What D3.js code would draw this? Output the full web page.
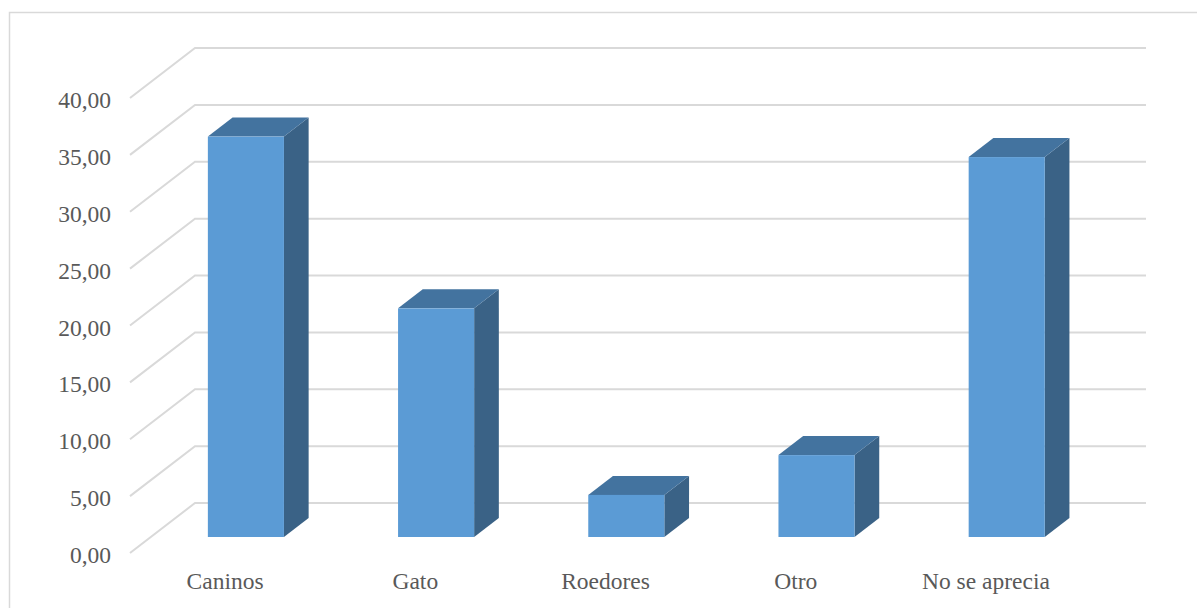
<!DOCTYPE html>
<html>
<head>
<meta charset="utf-8">
<script src="https://cdn.jsdelivr.net/npm/d3@7"></script>
<style>
  html, body { margin: 0; padding: 0; background: #fff; }
  svg { display: block; }
  .lbl text { font-family: 'Liberation Serif', 'Times New Roman', 'DejaVu Serif', serif; font-size: 23.5px; fill: #595959; }
</style>
</head>
<body>
<svg id="chart"></svg>
<script>
const categories = ['Caninos', 'Gato', 'Roedores', 'Otro', 'No se aprecia']
const values = [35.2, 20.1, 3.7, 7.2, 33.4]
const yTicks = [0, 5, 10, 15, 20, 25, 30, 35, 40]

const width = 1197
const height = 608
// oblique depth of the floor
const depth = { dx: 65, dy: -50 }
const front = { left: 130, right: 1081, base: 553 }
const barDepth = [0.32, 0.70]

const svg = d3.select('#chart')
  .attr('width', width)
  .attr('height', height)

// chart area border (only top and left visible)
svg.append('path')
  .attr('d', `M9.5,${height}V12.5H${width}`)
  .attr('fill', 'none')
  .attr('stroke', '#d9d9d9')
  .attr('stroke-width', 1.5)

const x = d3.scaleBand()
  .domain(categories)
  .range([front.left, front.right])
  .paddingInner(0.6)
  .paddingOuter(0.3)

const xBand = d3.scaleBand()
  .domain(categories)
  .range([front.left, front.right])

// y on the front plane
const y = d3.scaleLinear()
  .domain([0, 40])
  .range([front.base, front.base - 455])

// project a front-plane point to depth t (0 front, 1 back wall)
const proj = (px, py, t) => [px + t * depth.dx, py + t * depth.dy]

const g = svg.append('g')

// gridlines: diagonal on side wall + horizontal on back wall
yTicks.forEach(v => {
  const p0 = [front.left, y(v)]
  const p1 = proj(front.left, y(v), 1)
  const p2 = proj(front.right, y(v), 1)
  g.append('path')
    .attr('d', d3.line()([p0, p1, p2]))
    .attr('fill', 'none')
    .attr('stroke', '#d9d9d9')
    .attr('stroke-width', 2)
})

// y axis labels
const fmt = v => d3.format('.2f')(v).replace('.', ',')
svg.append('g')
  .attr('class', 'lbl')
  .attr('transform', `translate(${front.left},2)`)
  .call(d3.axisLeft(y).tickValues(yTicks).tickSize(0).tickPadding(19).tickFormat(fmt))
  .call(a => a.select('.domain').remove())

// bars
const bars = g.selectAll('.bar')
  .data(categories.map((c, i) => ({ c, v: values[i] })))
  .join('g')
  .attr('class', 'bar')

bars.each(function (d) {
  const sel = d3.select(this)
  const x0 = x(d.c)
  const x1 = x0 + x.bandwidth()
  const yb = y(0)
  const yt = y(d.v)
  const [t0, t1] = barDepth
  const f = (px, py) => proj(px, py, t0)
  const b = (px, py) => proj(px, py, t1)
  // side face
  sel.append('path')
    .attr('d', d3.line()([f(x1, yb), b(x1, yb), b(x1, yt), f(x1, yt)]) + 'Z')
    .attr('fill', '#3a6286')
  // top face
  sel.append('path')
    .attr('d', d3.line()([f(x0, yt), b(x0, yt), b(x1, yt), f(x1, yt)]) + 'Z')
    .attr('fill', '#43739f')
  // front face
  const p = f(x0, yt)
  sel.append('rect')
    .attr('x', p[0])
    .attr('y', p[1])
    .attr('width', x.bandwidth())
    .attr('height', yb - yt)
    .attr('fill', '#5b9bd5')
})

// category labels
svg.append('g')
  .attr('class', 'lbl')
  .attr('transform', `translate(0,${front.base})`)
  .call(d3.axisBottom(xBand).tickSize(0).tickPadding(19))
  .call(a => a.select('.domain').remove())
</script>
</body>
</html>
